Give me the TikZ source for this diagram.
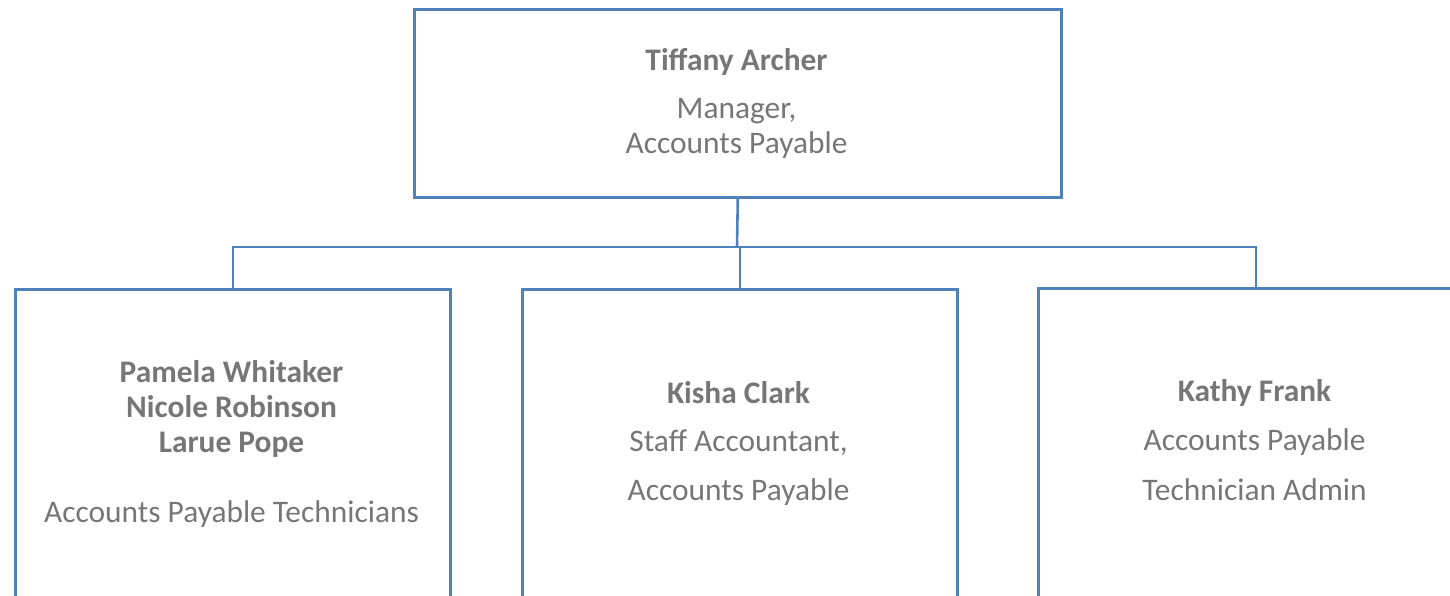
\documentclass[tikz,border=0pt]{standalone}
\usepackage{fontspec}
\setmainfont{Carlito}
\definecolor{linec}{RGB}{79,129,189}
\definecolor{txtc}{RGB}{118,118,118}
\begin{document}
\begin{tikzpicture}[x=1pt,y=-1pt,
  box/.style={draw=linec,line width=2.6pt,rectangle,inner sep=0pt,anchor=north west},
  conn/.style={draw=linec,line width=2.6pt},
  nm/.style={anchor=base,text=txtc,inner sep=0pt,font=\fontsize{31.4}{38}\selectfont\bfseries},
  rl/.style={anchor=base,text=txtc,inner sep=0pt,font=\fontsize{31.4}{38}\selectfont}]
\useasboundingbox (0,0) rectangle (1450,596);
\clip (0,0) rectangle (1450,596);
\node[box,minimum width=647pt,minimum height=188pt] (top) at (413,8) {};
\node[box,minimum width=435pt,minimum height=320pt] (b1) at (14,288) {};
\node[box,minimum width=435pt,minimum height=320pt] (b2) at (521,288) {};
\node[box,minimum width=435pt,minimum height=320pt] (b3) at (1037,287) {};
\coordinate (j) at (737,247);
\draw[conn] (top.south) -- (j);
\draw[conn] (j) -| (b1.north);
\draw[conn] (j) -| (b2.north);
\draw[conn] (j) -| (b3.north);
% top
\node[nm] (t1) at (736.5,71) {Tiffany Archer};
\node[rl] (t2) at (736.5,119) {Manager,};
\node[rl] (t3) at (736.5,154) {Accounts Payable};
% left
\node[nm] (l1) at (231.5,382) {Pamela Whitaker};
\node[nm] (l2) at (231.5,417) {Nicole Robinson};
\node[nm] (l3) at (231.5,452) {Larue Pope};
\node[rl] (l4) at (231.5,522) {Accounts Payable Technicians};
% middle
\node[nm] (m1) at (738.5,403) {Kisha Clark};
\node[rl] (m2) at (738.5,451) {Staff Accountant,};
\node[rl] (m3) at (738.5,500) {Accounts Payable};
% right
\node[nm] (r1) at (1254.5,401) {Kathy Frank};
\node[rl] (r2) at (1254.5,450) {Accounts Payable};
\node[rl] (r3) at (1254.5,500) {Technician Admin};
\end{tikzpicture}
\end{document}
